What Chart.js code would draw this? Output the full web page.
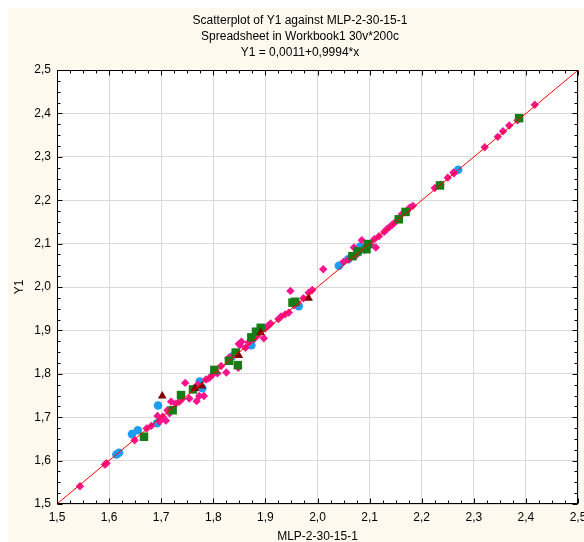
<!DOCTYPE html>
<html>
<head>
<meta charset="utf-8">
<script src="https://cdn.jsdelivr.net/npm/chart.js@4.4.0/dist/chart.umd.min.js"></script>
<style>
  html, body { margin: 0; padding: 0; background: #fff; }
  #wrap { width: 584px; height: 542px; }
</style>
</head>
<body>
<div id="wrap"><canvas id="chart" width="584" height="542"></canvas></div>
<script>
// tick labels (decimal comma, as in the original)
const xTickLabels = ["1,5", "1,6", "1,7", "1,8", "1,9", "2,0", "2,1", "2,2", "2,3", "2,4", "2,5"];
const yTickLabels = ["1,5", "1,6", "1,7", "1,8", "1,9", "2,0", "2,1", "2,2", "2,3", "2,4", "2,5"];

// regression line from the title: Y1 = 0,0011 + 0,9994*x
const fitIntercept = 0.0011;
const fitSlope = 0.9994;
const fitRange = [1.5, 2.5];

// pink diamonds
const diamondX = [2.250, 2.261, 2.321, 2.346, 2.356, 2.368, 2.384, 2.417, 2.225, 2.236, 2.262,
  2.183, 2.177, 2.172, 2.162, 2.157, 2.148, 2.143, 2.138, 2.133, 2.128, 2.118,
  2.085, 2.112, 2.109, 2.011, 2.070, 2.102, 2.090, 2.095, 2.075, 2.080, 2.060, 2.050,
  1.948, 1.983, 1.973, 1.990, 1.962, 1.955, 1.945, 1.938, 1.930, 1.925, 1.906, 1.900, 1.910,
  1.897, 1.885, 1.878, 1.868, 1.862, 1.854, 1.851, 1.849, 1.848, 1.838, 1.829, 1.825, 1.815,
  1.808, 1.798, 1.792, 1.786, 1.746, 1.782, 1.773, 1.770, 1.768, 1.762, 1.754, 1.740, 1.728,
  1.719, 1.712, 1.703, 1.735, 1.716, 1.709, 1.697, 1.693, 1.681, 1.672, 1.649,
  1.595, 1.592, 1.544];
const diamondY = [2.252, 2.264, 2.322, 2.346, 2.359, 2.372, 2.384, 2.420, 2.228, 2.236, 2.262,
  2.187, 2.183, 2.175, 2.168, 2.158, 2.148, 2.143, 2.138, 2.133, 2.127, 2.117,
  2.108, 2.091, 2.110, 2.041, 2.091, 2.098, 2.086, 2.096, 2.074, 2.082, 2.064, 2.058,
  1.991, 1.987, 1.974, 1.993, 1.963, 1.958, 1.941, 1.937, 1.932, 1.926, 1.912, 1.905, 1.916,
  1.882, 1.888, 1.880, 1.872, 1.860, 1.874, 1.866, 1.869, 1.814, 1.842, 1.836, 1.803, 1.818,
  1.801, 1.797, 1.790, 1.787, 1.779, 1.749, 1.749, 1.775, 1.737, 1.766, 1.743, 1.742, 1.731,
  1.736, 1.716, 1.701, 1.736, 1.709, 1.692, 1.690, 1.703, 1.680, 1.674, 1.647,
  1.594, 1.591, 1.541];

// blue circles
const circleX = [2.270, 2.082, 2.059, 2.041, 1.964, 1.873, 1.835, 1.774, 1.779, 1.694, 1.692, 1.655, 1.644, 1.619, 1.614];
const circleY = [2.270, 2.093, 2.064, 2.049, 1.956, 1.866, 1.839, 1.782, 1.767, 1.727, 1.686, 1.670, 1.661, 1.618, 1.614];

// green squares
const squareX = [2.387, 2.235, 2.169, 2.156, 2.097, 2.094, 2.077, 2.067, 1.952, 1.957, 1.891, 1.882, 1.873,
  1.843, 1.847, 1.830, 1.802, 1.761, 1.738, 1.722, 1.667];
const squareY = [2.389, 2.234, 2.173, 2.156, 2.099, 2.087, 2.082, 2.071, 1.964, 1.966, 1.906, 1.897, 1.884,
  1.849, 1.820, 1.830, 1.809, 1.764, 1.751, 1.716, 1.655];

// dark red triangles
const triangleX = [1.983, 1.891, 1.849, 1.778, 1.765, 1.702];
const triangleY = [1.974, 1.895, 1.842, 1.772, 1.766, 1.749];

const toPoints = (xs, ys) => xs.map((x, i) => ({ x: x, y: ys[i] }));
const fitLine = fitRange.map((x) => ({ x: x, y: fitIntercept + fitSlope * x }));

const FONT = "'Liberation Sans', Arial, sans-serif";

// cream page, white plot area
const backdrop = {
  id: "backdrop",
  beforeDraw(chart) {
    const { ctx, chartArea: a } = chart;
    ctx.save();
    ctx.fillStyle = "#ffffff";
    ctx.fillRect(0, 0, chart.width, chart.height);
    ctx.fillStyle = "#fdf9ee";
    ctx.fillRect(8, 8, chart.width - 8, chart.height - 8);
    ctx.fillStyle = "#ffffff";
    ctx.fillRect(a.left, a.top, a.right - a.left, a.bottom - a.top);
    ctx.restore();
  },
};

// black frame with inward major/minor ticks on all four sides
const frame = {
  id: "frame",
  afterDraw(chart) {
    const { ctx, chartArea: a } = chart;
    const xs = chart.scales.x;
    const ys = chart.scales.y;
    const L = Math.round(a.left) + 0.5;
    const R = Math.round(a.right) - 0.5;
    const T = Math.round(a.top) + 0.5;
    const B = Math.round(a.bottom) - 0.5;
    ctx.save();
    ctx.strokeStyle = "#000";
    ctx.lineWidth = 1;
    ctx.beginPath();
    for (let i = 0; i <= 40; i++) {
      const v = 1.5 + i * 0.025;
      const len = i % 4 === 0 ? 5 : 3;
      const px = Math.round(xs.getPixelForValue(v)) + 0.5;
      const py = Math.round(ys.getPixelForValue(v)) + 0.5;
      ctx.moveTo(px, B); ctx.lineTo(px, B - len);
      ctx.moveTo(px, T); ctx.lineTo(px, T + len);
      ctx.moveTo(L, py); ctx.lineTo(L + len, py);
      ctx.moveTo(R, py); ctx.lineTo(R - len, py);
    }
    ctx.stroke();
    ctx.strokeRect(L, T, R - L, B - T);
    ctx.restore();
  },
};

new Chart(document.getElementById("chart"), {
  type: "scatter",
  data: {
    datasets: [
      {
        type: "line",
        label: "fit",
        data: fitLine,
        borderColor: "#ff0000",
        borderWidth: 1,
        pointRadius: 0,
        fill: false,
        order: 0,
      },
      {
        label: "triangles",
        data: toPoints(triangleX, triangleY),
        pointStyle: "triangle",
        pointRadius: 5,
        backgroundColor: "#800000",
        borderColor: "#800000",
        borderWidth: 0,
        order: 1,
      },
      {
        label: "squares",
        data: toPoints(squareX, squareY),
        pointStyle: "rect",
        pointRadius: 6,
        backgroundColor: "#167d16",
        borderColor: "#167d16",
        borderWidth: 0,
        order: 2,
      },
      {
        label: "diamonds",
        data: toPoints(diamondX, diamondY),
        pointStyle: "rectRot",
        pointRadius: 4.2,
        backgroundColor: "#f7148f",
        borderColor: "#f7148f",
        borderWidth: 0,
        order: 3,
      },
      {
        label: "circles",
        data: toPoints(circleX, circleY),
        pointStyle: "circle",
        pointRadius: 4.3,
        backgroundColor: "#1e9df0",
        borderColor: "#1e9df0",
        borderWidth: 0,
        order: 4,
      },
    ],
  },
  options: {
    responsive: false,
    animation: false,
    devicePixelRatio: 1,
    layout: { padding: { left: 20, right: 4, top: 0, bottom: 0 } },
    plugins: {
      legend: { display: false },
      tooltip: { enabled: false },
      title: {
        display: true,
        text: ["Scatterplot of Y1 against MLP-2-30-15-1", "Spreadsheet in Workbook1 30v*200c", "Y1 = 0,0011+0,9994*x"],
        color: "#000",
        font: { family: FONT, size: 12, weight: "normal", lineHeight: 16 / 12 },
        padding: { top: 13, bottom: 9 },
      },
    },
    scales: {
      x: {
        type: "linear",
        min: 1.5,
        max: 2.5,
        afterFit(scale) {
          scale.height = 38;
          scale.paddingLeft = 0;
          scale.paddingRight = 0;
        },
        ticks: {
          stepSize: 0.1,
          autoSkip: false,
          maxRotation: 0,
          padding: 6,
          color: "#000",
          font: { family: FONT, size: 12 },
          callback: (v) => xTickLabels[Math.round((v - 1.5) * 10)],
        },
        grid: { color: "#dadada", lineWidth: 1, drawTicks: false },
        border: { display: false },
        title: {
          display: true,
          text: "MLP-2-30-15-1",
          color: "#000",
          font: { family: FONT, size: 12, lineHeight: 1.2 },
          padding: { top: 0, bottom: -2 },
        },
      },
      y: {
        type: "linear",
        min: 1.5,
        max: 2.5,
        afterFit(scale) {
          scale.width = 37;
          scale.paddingTop = 0;
          scale.paddingBottom = 0;
        },
        ticks: {
          stepSize: 0.1,
          autoSkip: false,
          padding: 6,
          color: "#000",
          font: { family: FONT, size: 12 },
          callback: (v) => yTickLabels[Math.round((v - 1.5) * 10)],
        },
        grid: { color: "#dadada", lineWidth: 1, drawTicks: false },
        border: { display: false },
        title: {
          display: true,
          text: "Y1",
          color: "#000",
          font: { family: FONT, size: 12, lineHeight: 1.2 },
          padding: { top: -8, bottom: 0 },
        },
      },
    },
  },
  plugins: [backdrop, frame],
});
</script>
</body>
</html>
